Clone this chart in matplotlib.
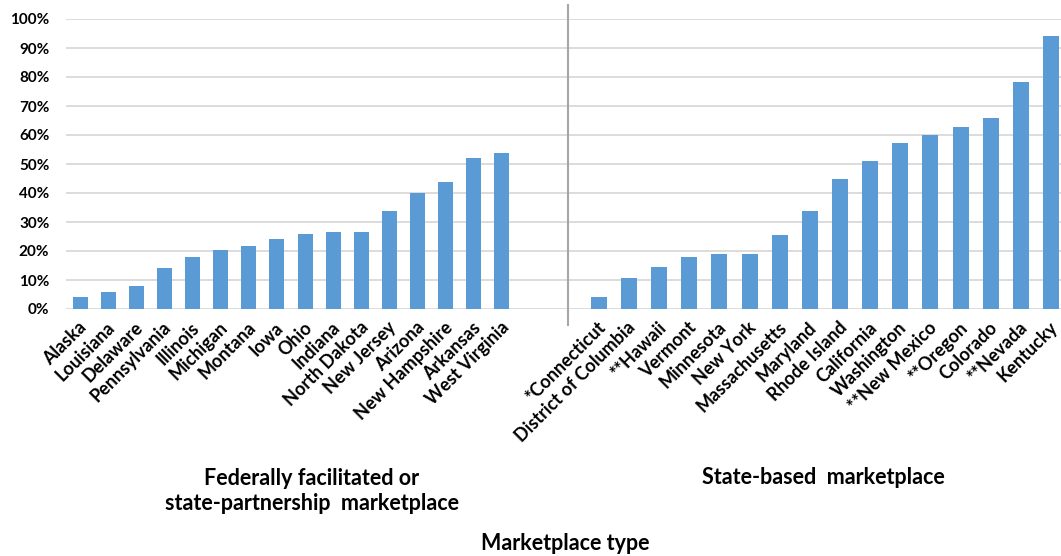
import matplotlib.pyplot as plt
import matplotlib.transforms as mtransforms
import numpy as np

plt.rcParams['font.family'] = ['Lato', 'DejaVu Sans']

# federally facilitated / state-partnership marketplace
fed_states = ['Alaska', 'Louisiana', 'Delaware', 'Pennsylvania', 'Illinois', 'Michigan',
              'Montana', 'Iowa', 'Ohio', 'Indiana', 'North Dakota', 'New Jersey',
              'Arizona', 'New Hampshire', 'Arkansas', 'West Virginia']
fed_vals = [4.1, 5.8, 8.0, 14.1, 18.0, 20.2, 21.8, 24.0, 25.7, 26.7, 26.7, 33.9,
            40.1, 43.9, 52.2, 53.9]

# state-based marketplace
sbm_states = ['*Connecticut', 'District of Columbia', '**Hawaii', 'Vermont', 'Minnesota',
              'New York', 'Massachusetts', 'Maryland', 'Rhode Island', 'California',
              'Washington', '**New Mexico', '**Oregon', 'Colorado', '**Nevada', 'Kentucky']
sbm_vals = [4.1, 10.7, 14.5, 18.0, 19.0, 19.0, 25.6, 33.9, 44.9, 51.0, 57.1, 59.9,
            62.7, 66.0, 78.2, 94.2]

W, H = 1061, 556
fig = plt.figure(figsize=(W/100, H/100), dpi=100)
bot, top = 309, 19
ax1 = fig.add_axes([66/W, (H-bot)/H, (568-66)/W, (bot-top)/H])
ax2 = fig.add_axes([568/W, (H-bot)/H, (W-568)/W, (bot-top)/H])

bar_col = '#5b9bd5'
yt = np.arange(0, 1.01, 0.1)
offset = mtransforms.ScaledTranslation(-0.02, -0.05, fig.dpi_scale_trans)

for ax, names, vals, xl in [(ax1, fed_states, fed_vals, (-0.5, 17.35)),
                            (ax2, sbm_states, sbm_vals, (-1.02, 15.33))]:
    x = np.arange(len(names))
    ax.bar(x, np.array(vals)/100, width=0.53, color=bar_col, zorder=3)
    ax.set_ylim(0, 1.0)
    ax.set_xlim(*xl)
    ax.set_yticks(yt)
    ax.grid(axis='y', color='#d9d9d9', lw=1.3, zorder=0)
    ax.tick_params(axis='both', length=0)
    ax.tick_params(axis='y', pad=12)
    for s in ax.spines.values():
        s.set_visible(False)
    ax.set_xticks(x)
    ax.set_xticklabels(names, rotation=45, ha='right', rotation_mode='anchor',
                       fontsize=13, fontweight='bold')
    for lbl in ax.get_xticklabels():
        lbl.set_transform(lbl.get_transform() + offset)

ax1.set_yticklabels(['%d%%' % round(v*100) for v in yt], fontsize=11, fontweight='bold')
ax2.set_yticklabels([])

# separator between the two groups
ax2.axvline(-1.02, ymin=-0.055, ymax=1.05, color='#a6a6a6', lw=1.5, clip_on=False, zorder=5)

fig.text(312/W, 1 - 491/H, 'Federally facilitated or\nstate-partnership  marketplace',
         ha='center', va='center', fontsize=15.5, fontweight='bold', linespacing=1.2)
fig.text(823/W, 1 - 478/H, 'State-based  marketplace', ha='center', va='center',
         fontsize=15.5, fontweight='bold')
fig.text(565/W, 1 - 543/H, 'Marketplace type', ha='center', va='center',
         fontsize=15.5, fontweight='bold')

fig.savefig('out.png', dpi=100)
